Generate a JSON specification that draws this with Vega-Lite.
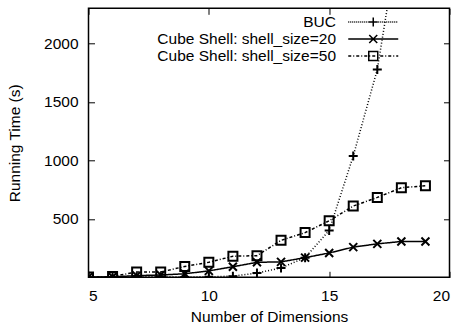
{
  "$schema": "https://vega.github.io/schema/vega-lite/v6.json",
  "width": 361,
  "height": 269,
  "autosize": "none",
  "padding": {"left": 88.5, "top": 8.3, "right": 11, "bottom": 50},
  "background": "white",
  "config": {
    "view": {"stroke": "black", "strokeWidth": 1.5},
    "font": "Liberation Sans",
    "axis": {
      "labelFont": "Liberation Sans",
      "titleFont": "Liberation Sans",
      "labelFontSize": 15.5,
      "titleFontSize": 15.5,
      "titleFontWeight": "normal",
      "labelColor": "black",
      "titleColor": "black",
      "tickColor": "black",
      "tickWidth": 1,
      "tickSize": -6,
      "domain": false,
      "grid": false
    },
    "legend": {
      "orient": "none",
      "legendX": 277,
      "legendY": 6,
      "padding": 0,
      "rowPadding": -4.5,
      "labelAlign": "right",
      "labelOffset": -45,
      "labelLimit": 0,
      "symbolSize": 100,
      "labelFont": "Liberation Sans",
      "labelFontSize": 15.5,
      "labelColor": "black",
      "symbolStrokeColor": "black",
      "symbolFillColor": "transparent",
      "symbolStrokeWidth": 1.5
    }
  },
  "data": {
    "values": [
      {"dim": 5, "time": 1, "series": "BUC"},
      {"dim": 6, "time": 2, "series": "BUC"},
      {"dim": 7, "time": 4, "series": "BUC"},
      {"dim": 8, "time": 4, "series": "BUC"},
      {"dim": 9, "time": 3, "series": "BUC"},
      {"dim": 10, "time": 4, "series": "BUC"},
      {"dim": 11, "time": 10, "series": "BUC"},
      {"dim": 12, "time": 36, "series": "BUC"},
      {"dim": 13, "time": 80, "series": "BUC"},
      {"dim": 14, "time": 168, "series": "BUC"},
      {"dim": 15, "time": 400, "series": "BUC"},
      {"dim": 16, "time": 1037, "series": "BUC"},
      {"dim": 17, "time": 1777, "series": "BUC"},
      {"dim": 18, "time": 3050, "series": "BUC"},
      {"dim": 19, "time": 5000, "series": "BUC"},
      {"dim": 5, "time": 2, "series": "Cube Shell: shell_size=20"},
      {"dim": 6, "time": 4, "series": "Cube Shell: shell_size=20"},
      {"dim": 7, "time": 14, "series": "Cube Shell: shell_size=20"},
      {"dim": 8, "time": 20, "series": "Cube Shell: shell_size=20"},
      {"dim": 9, "time": 30, "series": "Cube Shell: shell_size=20"},
      {"dim": 10, "time": 55, "series": "Cube Shell: shell_size=20"},
      {"dim": 11, "time": 90, "series": "Cube Shell: shell_size=20"},
      {"dim": 12, "time": 128, "series": "Cube Shell: shell_size=20"},
      {"dim": 13, "time": 132, "series": "Cube Shell: shell_size=20"},
      {"dim": 14, "time": 168, "series": "Cube Shell: shell_size=20"},
      {"dim": 15, "time": 208, "series": "Cube Shell: shell_size=20"},
      {"dim": 16, "time": 258, "series": "Cube Shell: shell_size=20"},
      {"dim": 17, "time": 286, "series": "Cube Shell: shell_size=20"},
      {"dim": 18, "time": 306, "series": "Cube Shell: shell_size=20"},
      {"dim": 19, "time": 306, "series": "Cube Shell: shell_size=20"},
      {"dim": 5, "time": 2, "series": "Cube Shell: shell_size=50"},
      {"dim": 6, "time": 6, "series": "Cube Shell: shell_size=50"},
      {"dim": 7, "time": 46, "series": "Cube Shell: shell_size=50"},
      {"dim": 8, "time": 45, "series": "Cube Shell: shell_size=50"},
      {"dim": 9, "time": 93, "series": "Cube Shell: shell_size=50"},
      {"dim": 10, "time": 128, "series": "Cube Shell: shell_size=50"},
      {"dim": 11, "time": 180, "series": "Cube Shell: shell_size=50"},
      {"dim": 12, "time": 185, "series": "Cube Shell: shell_size=50"},
      {"dim": 13, "time": 316, "series": "Cube Shell: shell_size=50"},
      {"dim": 14, "time": 382, "series": "Cube Shell: shell_size=50"},
      {"dim": 15, "time": 483, "series": "Cube Shell: shell_size=50"},
      {"dim": 16, "time": 609, "series": "Cube Shell: shell_size=50"},
      {"dim": 17, "time": 683, "series": "Cube Shell: shell_size=50"},
      {"dim": 18, "time": 766, "series": "Cube Shell: shell_size=50"},
      {"dim": 19, "time": 783, "series": "Cube Shell: shell_size=50"}
    ]
  },
  "layer": [
    {
      "mark": {"type": "line", "color": "black", "strokeWidth": 1.5, "clip": true},
      "encoding": {
        "x": {
          "field": "dim", "type": "quantitative",
          "scale": {"domain": [5, 20], "nice": false, "zero": false},
          "axis": {"values": [5, 10, 15, 20], "title": "Number of Dimensions", "labelPadding": 17, "titlePadding": 6}
        },
        "y": {
          "field": "time", "type": "quantitative",
          "scale": {"domain": [0, 2300], "nice": false},
          "axis": {"values": [500, 1000, 1500, 2000], "format": "d", "title": "Running Time (s)", "labelPadding": 16.5, "titlePadding": 21}
        },
        "strokeDash": {
          "field": "series", "type": "nominal",
          "scale": {
            "domain": ["BUC", "Cube Shell: shell_size=20", "Cube Shell: shell_size=50"],
            "range": [[1, 2], [1, 0], [3, 2, 1, 2]]
          },
          "legend": null
        }
      }
    },
    {
      "mark": {"type": "point", "filled": false, "color": "black", "strokeWidth": 2, "size": 100, "opacity": 1, "clip": true},
      "encoding": {
        "x": {
          "field": "dim", "type": "quantitative",
          "axis": {"orient": "top", "values": [5, 10, 15, 20], "labels": false, "title": null}
        },
        "y": {
          "field": "time", "type": "quantitative",
          "axis": {"orient": "right", "values": [500, 1000, 1500, 2000], "labels": false, "title": null}
        },
        "shape": {
          "field": "series", "type": "nominal",
          "scale": {
            "domain": ["BUC", "Cube Shell: shell_size=20", "Cube Shell: shell_size=50"],
            "range": ["M-0.9,0H0.9M0,-0.9V0.9", "M-0.8,-0.8L0.8,0.8M-0.8,0.8L0.8,-0.8", "M-0.9,-0.9H0.9V0.9H-0.9Z"]
          },
          "legend": null
        }
      }
    },
    {
      "transform": [{"filter": "false"}],
      "mark": {"type": "point", "filled": false, "color": "black", "opacity": 1},
      "encoding": {
        "x": {"field": "dim", "type": "quantitative", "axis": null},
        "y": {"field": "time", "type": "quantitative", "axis": null},
        "shape": {
          "field": "series", "type": "nominal",
          "scale": {
            "domain": ["BUC", "Cube Shell: shell_size=20", "Cube Shell: shell_size=50"],
            "range": [
              "M-5,0h0.2m0.2,0h0.2m0.2,0h0.2m0.2,0h0.2m0.2,0h0.2m0.2,0h0.2m0.2,0h0.2m0.2,0h0.2m0.2,0h0.2m0.2,0h0.2m0.2,0h0.2m0.2,0h0.2m0.2,0h0.2m0.2,0h0.2m0.2,0h0.2m0.2,0h0.2m0.2,0h0.2m0.2,0h0.2m0.2,0h0.2m0.2,0h0.2m0.2,0h0.2m0.2,0h0.2m0.2,0h0.2m0.2,0h0.2m0.2,0h0.2M-0.9,0H0.9M0,-0.9V0.9",
              "M-5,0H5M-0.8,-0.8L0.8,0.8M-0.8,0.8L0.8,-0.8",
              "M-5,0h0.6m0.4,0h0.2m0.4,0h0.6m0.4,0h0.2m0.4,0h0.6m0.4,0h0.2m0.4,0h0.6m0.4,0h0.2m0.4,0h0.6m0.4,0h0.2m0.4,0h0.6m0.4,0h0.2m0.4,0h0.4M-0.9,-0.9H0.9V0.9H-0.9Z"
            ]
          },
          "legend": {"title": null}
        }
      }
    }
  ],
  "resolve": {
    "scale": {"shape": "independent", "strokeDash": "independent"},
    "axis": {"x": "independent", "y": "independent"},
    "legend": {"shape": "independent"}
  }
}
